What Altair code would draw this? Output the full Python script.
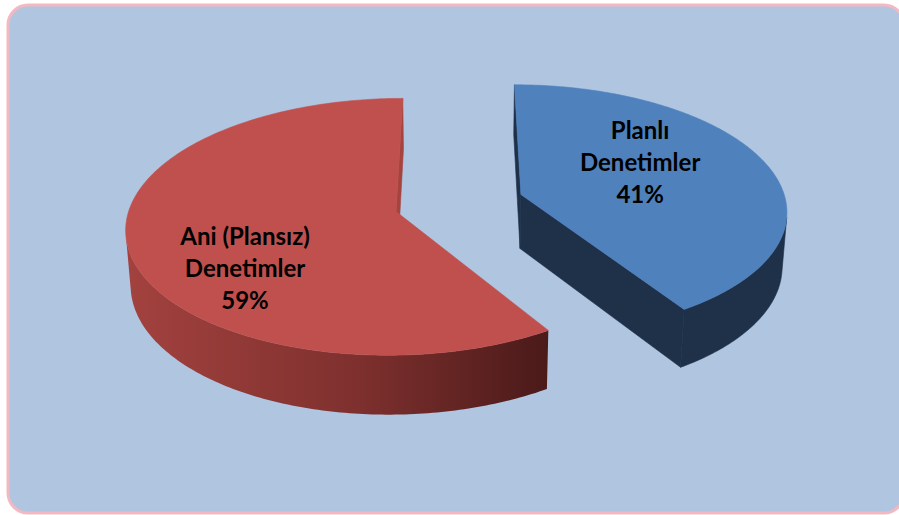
import numpy as np
import pandas as pd
import altair as alt

# ---- data ----
categories = ["Planlı Denetimler", "Ani (Plansız) Denetimler"]
values = [41, 59]
percent_labels = ["41%", "59%"]
top_colors = ["#4F81BD", "#C0504D"]

# ---- layout / style ----
W, H = 899, 515
phi = np.radians(28.0)
DIST = 7.5
FOC = 1990.0
CX, CY = 459.0, 203.0
THICK = 0.235
EXPLODE = 0.245
LABEL_R = [0.45, 0.55]
LABEL_DY = [-47, 7]
LABEL_DX = [8, -6]
s_, c_ = np.sin(phi), np.cos(phi)


def proj(X, Y, Z):
    X = np.asarray(X, float); Y = np.asarray(Y, float); Z = np.asarray(Z, float)
    rx, ry, rz = X, Y + DIST * c_, Z - DIST * s_
    depth = ry * c_ - rz * s_
    up = ry * s_ + rz * c_
    return CX + FOC * rx / depth, CY - FOC * up / depth


def visible(nx, ny, nz, px, py, pz):
    return nx * (-px) + ny * (-DIST * c_ - py) + nz * (DIST * s_ - pz) > 0


total = float(sum(values))
bounds = np.concatenate([[0.0], np.cumsum(values) / total * 2 * np.pi])

faces = {"side": [], "top": [], "cut": []}
label_rows = []
pid = 0
for k in range(len(values)):
    t0, t1 = bounds[k], bounds[k + 1]
    mid = (t0 + t1) / 2
    ox, oy = EXPLODE * np.sin(mid), EXPLODE * np.cos(mid)
    th = np.linspace(t0, t1, 240)
    rx, ry = ox + np.sin(th), oy + np.cos(th)

    # radial cut faces
    for ang, nang in [(t0, t0 - np.pi / 2), (t1, t1 + np.pi / 2)]:
        nx, ny = np.sin(nang), np.cos(nang)
        if visible(nx, ny, 0, ox, oy, 0):
            ex, ey = ox + np.sin(ang), oy + np.cos(ang)
            X = [ox, ex, ex, ox, ox]
            Y = [oy, ey, ey, oy, oy]
            Z = [0, 0, -THICK, -THICK, 0]
            sx, sy = proj(X, Y, Z)
            key = "cut" if (k == 1) else "side"
            for i in range(len(sx)):
                faces[key].append(dict(poly=pid, i=i, x=sx[i], y=sy[i], s=k))
            pid += 1

    # outer wall
    vis = visible(np.sin(th), np.cos(th), 0, rx, ry, 0)
    if vis.any():
        idx = np.where(vis)[0]
        a, b = idx.min(), idx.max()
        wx, wy = rx[a:b + 1], ry[a:b + 1]
        X = np.concatenate([wx, wx[::-1], wx[:1]])
        Y = np.concatenate([wy, wy[::-1], wy[:1]])
        Z = np.concatenate([np.zeros(len(wx)), -THICK * np.ones(len(wx)), [0]])
        sx, sy = proj(X, Y, Z)
        for i in range(len(sx)):
            faces["side"].append(dict(poly=pid, i=i, x=sx[i], y=sy[i], s=k))
        pid += 1

    # top face
    X = np.concatenate([[ox], rx, [ox]])
    Y = np.concatenate([[oy], ry, [oy]])
    sx, sy = proj(X, Y, np.zeros(len(X)))
    for i in range(len(sx)):
        faces["top"].append(dict(poly=pid, i=i, x=sx[i], y=sy[i], s=k))
    pid += 1

    lx, ly = proj([ox + LABEL_R[k] * np.sin(mid)], [oy + LABEL_R[k] * np.cos(mid)], [0])
    label_rows.append(dict(x=lx[0] + LABEL_DX[k], y=ly[0] + LABEL_DY[k],
                           text=categories[k].replace(" Denetimler", "\nDenetimler") + "\n" + percent_labels[k]))

side_df = pd.DataFrame(faces["side"])
top_df = pd.DataFrame(faces["top"])
cut_df = pd.DataFrame(faces["cut"])
lab_df = pd.DataFrame(label_rows)

xs = alt.Scale(domain=[0, W], nice=False, zero=False)
ys = alt.Scale(domain=[0, H], nice=False, zero=False, reverse=True)
X_ = alt.X("x:Q", scale=xs, axis=None)
Y_ = alt.Y("y:Q", scale=ys, axis=None)

bg = alt.Chart(pd.DataFrame({"a": [0]})).mark_rect(
    fill="#AFC5E0", stroke="#F3B9C2", strokeWidth=3, cornerRadius=20
).encode(x=alt.value(8), x2=alt.value(904), y=alt.value(5), y2=alt.value(513))


def poly_layer(df, **mk):
    return alt.Chart(df).mark_line(strokeWidth=0.6, **mk).encode(
        x=X_, y=Y_, order="i:Q", detail="poly:N")


red_grad = alt.Gradient(
    gradient="linear", x1=0, x2=1, y1=0, y2=0,
    stops=[alt.GradientStop(color="#A3423F", offset=0),
           alt.GradientStop(color="#7E302E", offset=0.55),
           alt.GradientStop(color="#4A1A19", offset=1)])

blue_side = poly_layer(side_df[side_df.s == 0], fill="#1F3049", stroke="#1F3049")
blue_top = poly_layer(top_df[top_df.s == 0], fill=top_colors[0], stroke=top_colors[0])
red_cut = poly_layer(cut_df, fill="#A5433F", stroke="#A5433F")
red_side = poly_layer(side_df[side_df.s == 1], fill=red_grad, stroke="#7E302E", strokeOpacity=0)
red_top = poly_layer(top_df[top_df.s == 1], fill=top_colors[1], stroke=top_colors[1])

text = alt.Chart(lab_df).mark_text(
    font="Lato", fontWeight="bold", fontSize=24, lineBreak="\n", lineHeight=32,
    align="center", baseline="middle", color="#000000"
).encode(x=X_, y=Y_, text="text:N")

chart = alt.layer(bg, blue_side, blue_top, red_cut, red_side, red_top, text).properties(
    width=W, height=H, padding=0, autosize=alt.AutoSizeParams(type="none"),
    background="#FFFFFF"
).configure_view(stroke=None)

chart.save("out.html", embed_options={"renderer": "svg", "actions": False})
